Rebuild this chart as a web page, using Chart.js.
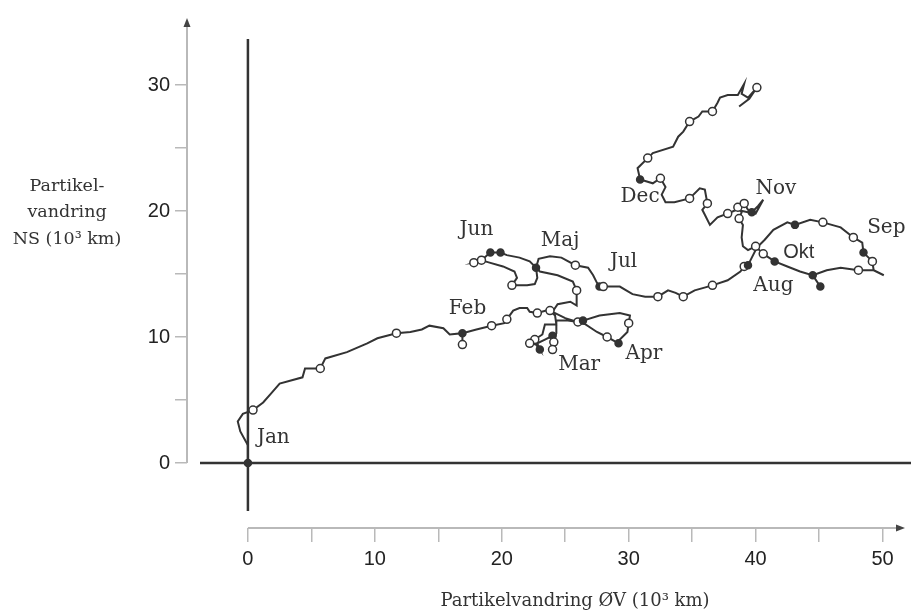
<!DOCTYPE html>
<html>
<head>
<meta charset="utf-8">
<title>Partikelvandring</title>
<script src="https://cdn.jsdelivr.net/npm/chart.js@4.4.1/dist/chart.umd.min.js"></script>
<style>
  html, body { margin: 0; padding: 0; background: #fff; }
  #wrap { width: 911px; height: 613px; }
</style>
</head>
<body>
<div id="wrap"><canvas id="chart" width="911" height="613"></canvas></div>
<script>
/* particle track in 10^3 km: east-west (x) and north-south (y) */
const pathX = [
  0.0, 0.0, -0.6, -0.8, -0.4, 0.4, 1.2, 1.9, 2.5, 4.3,
  4.5, 5.7, 6.1, 7.8, 9.4, 10.2, 11.7, 12.8, 13.7, 14.3,
  15.4, 15.9, 16.9, 16.9, 16.9, 18.0, 19.2, 20.2, 20.4, 20.9,
  21.4, 22.0, 22.2, 22.8, 23.5, 23.8, 24.2, 24.3, 23.4, 23.2,
  22.6, 22.2, 22.7, 23.0, 22.8, 23.4, 24.0, 24.1, 24.0, 24.1,
  24.3, 24.3, 25.2, 26.0, 26.4, 27.7, 29.3, 30.1, 30.0, 29.9,
  29.3, 29.2, 28.3, 27.5, 26.6, 25.0, 24.0, 24.4, 25.4, 25.9,
  25.9, 25.9, 25.6, 24.4, 23.0, 22.7, 22.8, 22.6, 22.0, 20.8,
  21.2, 21.0, 20.1, 18.7, 17.8, 18.4, 19.1, 19.9, 20.4, 21.4,
  22.2, 22.7, 22.9, 23.8, 24.7, 25.8, 26.8, 27.2, 27.5, 27.7,
  28.0, 29.3, 30.3, 31.3, 32.3, 33.1, 33.7, 34.3, 35.2, 36.6,
  37.8, 38.8, 39.1, 39.4, 39.7, 40.1, 40.7, 41.4, 42.5, 43.1,
  44.3, 45.3, 46.7, 47.7, 48.4, 48.5, 49.2, 49.3, 50.1, 49.3,
  48.1, 46.7, 45.6, 44.5, 45.1, 44.5, 43.5, 42.5, 41.5, 40.6,
  40.0, 39.4, 39.0, 38.9, 39.0, 38.7, 38.9, 38.6, 39.1, 39.4,
  39.7, 40.2, 40.6, 40.0, 39.4, 38.5, 37.8, 37.0, 36.4, 36.0,
  35.8, 36.2, 36.0, 35.6, 34.8, 33.6, 32.9, 32.6, 32.9, 32.5,
  31.9, 30.9, 30.7, 31.5, 31.9, 33.5, 33.9, 34.3, 34.8, 35.5,
  35.8, 36.6, 37.0, 37.2, 37.8, 38.6, 39.1, 38.9, 39.4, 40.1,
  39.5, 38.7
];
const pathY = [
  0.0, 1.4, 2.5, 3.3, 3.9, 4.2, 4.8, 5.6, 6.3, 6.8,
  7.5, 7.5, 8.3, 8.8, 9.5, 9.9, 10.3, 10.4, 10.6, 10.9,
  10.7, 10.2, 10.3, 9.4, 10.3, 10.6, 10.9, 11.1, 11.4, 12.1,
  12.3, 12.3, 12.0, 11.9, 12.1, 12.1, 11.7, 11.0, 11.0, 10.2,
  9.8, 9.5, 9.4, 9.0, 9.5, 9.8, 10.1, 9.6, 9.0, 9.6,
  10.3, 11.3, 11.3, 11.2, 11.3, 11.7, 11.9, 11.7, 11.1, 10.4,
  9.8, 9.5, 10.0, 10.4, 11.0, 11.5, 12.0, 12.6, 12.8, 12.5,
  13.2, 13.7, 14.4, 14.9, 15.2, 15.5, 14.7, 14.2, 14.1, 14.1,
  14.7, 15.2, 15.6, 16.0, 15.9, 16.1, 16.7, 16.7, 16.5, 16.3,
  16.0, 15.5, 16.2, 16.4, 16.3, 15.7, 15.5, 14.9, 14.3, 14.0,
  14.0, 14.0, 13.4, 13.2, 13.2, 13.7, 13.5, 13.2, 13.7, 14.1,
  14.5, 15.2, 15.6, 15.7, 16.3, 17.1, 17.7, 18.5, 19.1, 18.9,
  19.3, 19.1, 18.7, 17.9, 17.5, 16.7, 16.0, 15.3, 14.9, 15.3,
  15.3, 15.5, 15.3, 14.9, 14.0, 14.9, 15.2, 15.6, 16.0, 16.6,
  17.2, 16.9, 17.2, 17.9, 18.9, 19.4, 19.9, 20.3, 20.6, 20.1,
  19.9, 20.4, 20.9, 19.8, 19.9, 20.1, 19.8, 19.5, 18.9, 19.7,
  20.1, 20.6, 21.7, 21.8, 21.0, 20.7, 20.7, 21.3, 21.9, 22.6,
  22.2, 22.5, 23.4, 24.2, 24.6, 25.1, 25.9, 26.3, 27.1, 27.5,
  27.9, 27.9, 28.6, 29.0, 29.2, 29.2, 30.1, 29.3, 29.0, 29.8,
  28.9, 28.3
];
/* 0 = plain track, 1 = open circle, 2 = filled dot */
const pathMark = [
  2, 0, 0, 0, 0, 1, 0, 0, 0, 0,
  0, 1, 0, 0, 0, 0, 1, 0, 0, 0,
  0, 0, 2, 1, 0, 0, 1, 0, 1, 0,
  0, 0, 0, 1, 0, 1, 0, 0, 0, 0,
  1, 1, 0, 2, 0, 0, 2, 1, 1, 0,
  0, 0, 0, 1, 2, 0, 0, 0, 1, 0,
  0, 2, 1, 0, 0, 0, 0, 0, 0, 0,
  0, 1, 0, 0, 0, 2, 0, 0, 0, 1,
  0, 0, 0, 0, 1, 1, 2, 2, 0, 0,
  0, 0, 0, 0, 0, 1, 0, 0, 0, 2,
  1, 0, 0, 0, 1, 0, 0, 1, 0, 1,
  0, 0, 1, 2, 0, 0, 0, 0, 0, 2,
  0, 1, 0, 1, 0, 2, 1, 0, 0, 0,
  1, 0, 0, 2, 2, 0, 0, 0, 2, 1,
  1, 0, 0, 0, 0, 1, 0, 1, 1, 0,
  2, 0, 0, 0, 0, 0, 1, 0, 0, 0,
  0, 1, 0, 0, 1, 0, 0, 0, 0, 1,
  0, 2, 0, 1, 0, 0, 0, 0, 1, 0,
  0, 1, 0, 0, 0, 0, 0, 0, 0, 1,
  0, 0
];

const monthNames = ['Jan', 'Feb', 'Mar', 'Apr', 'Maj', 'Jun', 'Jul', 'Aug', 'Sep', 'Okt', 'Nov', 'Dec'];
const monthX = [2.0, 17.3, 26.1, 31.2, 24.6, 18.0, 29.6, 41.4, 50.3, 43.4, 41.6, 30.9];
const monthY = [2.0, 12.2, 7.8, 8.7, 17.6, 18.5, 16.0, 14.1, 18.7, 16.7, 21.8, 21.1];

const xTicks = [0, 5, 10, 15, 20, 25, 30, 35, 40, 45, 50];
const yTicks = [0, 5, 10, 15, 20, 25, 30];

const xTitle = 'Partikelvandring ØV (10³ km)';
const yTitle = ['Partikel-', 'vandring', 'NS (10³ km)'];

const INK = '#333';
const AXIS = '#b9b9b9';
const SERIF = '"DejaVu Serif", serif';
const SANS = '"Liberation Sans", Arial, sans-serif';

/* zero lines, grey axis lines with arrows, and all free text */
const frame = {
  id: 'frame',
  beforeDatasetsDraw(chart) {
    const { ctx, chartArea: a, scales: { x, y } } = chart;
    const x0 = x.getPixelForValue(0), y0 = y.getPixelForValue(0);
    ctx.save();
    ctx.strokeStyle = AXIS;
    ctx.lineWidth = 2;
    ctx.beginPath();
    ctx.moveTo(a.left, y0); ctx.lineTo(a.left, a.top + 6);
    ctx.moveTo(x0, a.bottom); ctx.lineTo(a.right - 6, a.bottom);
    ctx.stroke();
    ctx.fillStyle = '#444';
    ctx.beginPath();
    ctx.moveTo(a.left, a.top); ctx.lineTo(a.left - 3.5, a.top + 9); ctx.lineTo(a.left + 3.5, a.top + 9);
    ctx.fill();
    ctx.beginPath();
    ctx.moveTo(a.right, a.bottom); ctx.lineTo(a.right - 9, a.bottom - 3.5); ctx.lineTo(a.right - 9, a.bottom + 3.5);
    ctx.fill();
    ctx.strokeStyle = INK;
    ctx.lineWidth = 2.5;
    ctx.beginPath();
    ctx.moveTo(200, y0); ctx.lineTo(chart.width, y0);
    ctx.moveTo(x0, 39); ctx.lineTo(x0, 511);
    ctx.stroke();
    ctx.restore();
  },
  afterDraw(chart) {
    const { ctx, scales: { x, y } } = chart;
    ctx.save();
    ctx.fillStyle = INK;
    ctx.textAlign = 'center';
    ctx.textBaseline = 'middle';
    monthNames.forEach((m, i) => {
      ctx.font = (m === 'Okt' ? '20px ' + SANS : '20px ' + SERIF);
      ctx.fillText(m, x.getPixelForValue(monthX[i]), y.getPixelForValue(monthY[i]));
    });
    ctx.font = '17.5px ' + SERIF;
    yTitle.forEach((t, i) => ctx.fillText(t, 67, 186 + i * 26.5));
    ctx.font = '18px ' + SERIF;
    ctx.fillText(xTitle, 575, 601);
    ctx.restore();
  }
};

new Chart(document.getElementById('chart'), {
  type: 'scatter',
  data: {
    datasets: [{
      data: pathX.map((v, i) => ({ x: v, y: pathY[i] })),
      showLine: true,
      borderColor: INK,
      borderWidth: 2,
      tension: 0,
      pointRadius: c => [0, 4, 3.5][pathMark[c.dataIndex]],
      pointBackgroundColor: c => pathMark[c.dataIndex] === 2 ? INK : '#fff',
      pointBorderColor: INK,
      pointBorderWidth: 1.5
    }]
  },
  options: {
    responsive: false,
    animation: false,
    events: [],
    layout: { padding: { top: 18, right: 6, left: 0, bottom: 0 } },
    plugins: { legend: { display: false }, tooltip: { enabled: false } },
    scales: {
      x: {
        type: 'linear', min: -4.8, max: 51.77,
        afterBuildTicks: s => { s.ticks = xTicks.map(v => ({ value: v })); },
        afterFit: s => { s.height = 85; },
        border: { display: false },
        grid: { drawOnChartArea: false, drawTicks: true, tickLength: 14, color: AXIS, lineWidth: 1.5 },
        ticks: {
          callback: v => v % 10 === 0 ? String(v) : '',
          autoSkip: false, maxRotation: 0, padding: 5,
          color: '#222', font: { family: SANS, size: 20 }
        }
      },
      y: {
        type: 'linear', min: -5.16, max: 35.32,
        afterBuildTicks: s => { s.ticks = yTicks.map(v => ({ value: v })); },
        afterFit: s => { s.width = 187; },
        border: { display: false },
        grid: { drawOnChartArea: false, drawTicks: true, tickLength: 12, color: AXIS, lineWidth: 1.5 },
        ticks: {
          callback: v => v % 10 === 0 ? String(v) : '',
          autoSkip: false, padding: 5,
          color: '#222', font: { family: SANS, size: 20 }
        }
      }
    }
  },
  plugins: [frame]
});
</script>
</body>
</html>
